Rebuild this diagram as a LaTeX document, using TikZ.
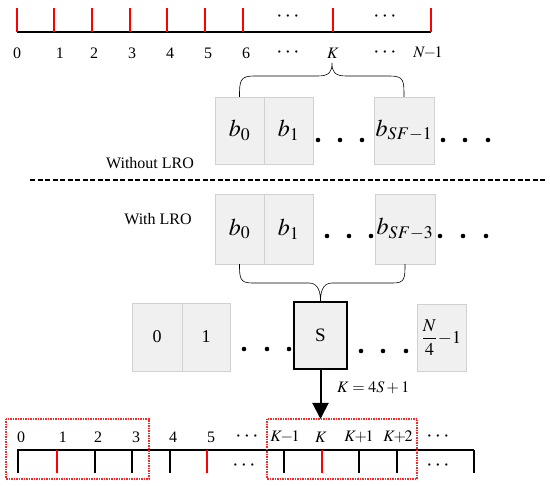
\documentclass[tikz,border=0pt]{standalone}
\usepackage{mathptmx}
\usepackage{fontspec}
\setmainfont{Liberation Serif}
\usetikzlibrary{arrows.meta}
\begin{document}
\begin{tikzpicture}[x=1pt,y=-1pt,
    lroBox/.style={rectangle,draw=black!18,fill=black!6,minimum height=67pt,inner sep=0pt,font=\fontsize{24}{28}\selectfont},
    lroNum/.style={font=\fontsize{18}{22}\selectfont},
    lroSel/.style={rectangle,draw=black,line width=1.2pt,fill=black!6,minimum width=53pt,minimum height=67pt,inner sep=0pt,font=\fontsize{19}{22}\selectfont},
    lroLabel/.style={inner sep=0pt,font=\fontsize{16}{19}\selectfont},
    lroDots/.style={inner sep=0pt,font=\fontsize{22}{24}\selectfont},
    lroFrame/.style={draw=red!85,densely dotted,line width=1.5pt},
    lroArrow/.style={-{Triangle[width=16pt,length=16pt]},line width=2pt},
]
\useasboundingbox (0,0) rectangle (550,486);
% top sequence 0 .. N-1
\draw[line width=1.8pt] (17,32) -- (431,32);
\draw[red,line width=1.8pt] (17,8) -- (17,32) (54,8) -- (54,32) (92,8) -- (92,32) (130,8) -- (130,32)
    (167,8) -- (167,32) (205,8) -- (205,32) (243,8) -- (243,32) (333,8) -- (333,32) (431,8) -- (431,32);
\node[lroDots] (tDotsA) at (288,17) {$\cdots$};
\node[lroDots] (tDotsB) at (385,17) {$\cdots$};
\node[lroLabel] (t0) at (17,53) {0};
\node[lroLabel] (t1) at (60,53) {1};
\node[lroLabel] (t2) at (94,53) {2};
\node[lroLabel] (t3) at (132,53) {3};
\node[lroLabel] (t4) at (170,53) {4};
\node[lroLabel] (t5) at (208,53) {5};
\node[lroLabel] (t6) at (246,53) {6};
\node[lroDots] (tDotsC) at (288,53) {$\cdots$};
\node[lroLabel] (tK) at (333,53) {$K$};
\node[lroDots] (tDotsD) at (385,53) {$\cdots$};
\node[lroLabel] (tN) at (428,53) {$N\!\!-\!\!1$};
\coordinate (braceTop) at (332,63);
% without LRO
\node[lroBox,minimum width=49pt] (a0) at (239.5,130.5) {$b_0$};
\node[lroBox,minimum width=49pt] (a1) at (288.5,130.5) {$b_1$};
\node[lroBox,minimum width=60pt] (a2) at (404,130.5) {$b_{SF-1}$};
\fill (318,140) circle (2.3pt) (340,140) circle (2.3pt) (362,140) circle (2.3pt);
\fill (443,140) circle (2.3pt) (465,140) circle (2.3pt) (488,140) circle (2.3pt);
\draw[semithick] (a0.north) .. controls +(0,-16) and +(-14,0) .. (254,76) -- (318,76)
    .. controls +(12,0) and +(0,8) .. (braceTop) .. controls +(0,8) and +(-12,0) .. (346,76)
    -- (390,76) .. controls +(14,0) and +(0,-16) .. (a2.north);
\node[lroLabel] (noLro) at (150,163) {Without LRO};
\draw[line width=2pt,dash pattern=on 5pt off 2.5pt] (30,180) -- (546,180);
% with LRO
\node[lroLabel] (withLro) at (158,219) {With LRO};
\node[lroBox,minimum width=49pt,minimum height=70pt] (c0) at (239.5,229) {$b_0$};
\node[lroBox,minimum width=49pt,minimum height=70pt] (c1) at (288.5,229) {$b_1$};
\node[lroBox,minimum width=60pt,minimum height=70pt] (c2) at (405,229) {$b_{SF-3}$};
\fill (327,236) circle (2.3pt) (349,236) circle (2.3pt) (371,236) circle (2.3pt);
\fill (440,236) circle (2.3pt) (463,236) circle (2.3pt) (486,236) circle (2.3pt);
% subframes
\node[lroBox,lroNum,minimum width=50pt,minimum height=68pt] (s0) at (157,337) {0};
\node[lroBox,lroNum,minimum width=48pt,minimum height=68pt] (s1) at (206,337) {1};
\node[lroSel] (sS) at (320.5,335.5) {S};
\node[lroBox,lroNum,minimum width=49pt,minimum height=67pt] (sN) at (441.5,337.5) {$\displaystyle\frac{N}{4}\!-\!1$};
\fill (244,349) circle (2.3pt) (267,349) circle (2.3pt) (289,349) circle (2.3pt);
\fill (361,351) circle (2.3pt) (383,351) circle (2.3pt) (406,351) circle (2.3pt);
\draw[semithick] (c0.south) .. controls +(0,14) and +(-12,0) .. (252,283) -- (309,283)
    .. controls +(10,0) and +(0,-8) .. (sS.north) .. controls +(0,-8) and +(-10,0) .. (332,283)
    -- (393,283) .. controls +(12,0) and +(0,14) .. (c2.south);
% mapping
\coordinate (kTip) at (320.5,419);
\draw[lroArrow] (sS.south) -- (kTip);
\node[lroLabel,anchor=west] (kEq) at (337,388) {$K=4S+1$};
% bottom sequence
\draw[line width=1.8pt] (18,450) -- (474,450);
\draw[line width=1.8pt] (18,449) -- (18,473) (95,450) -- (95,473) (132,450) -- (132,473) (170,450) -- (170,473)
    (284,450) -- (284,473) (359,450) -- (359,473) (397,450) -- (397,473) (474,450) -- (474,473);
\draw[red,line width=1.8pt] (57,450) -- (57,473) (207,450) -- (207,473) (322,450) -- (322,473);
\node[lroLabel] (b0) at (21,437) {0};
\node[lroLabel] (b1) at (63,437) {1};
\node[lroLabel] (b2) at (98,437) {2};
\node[lroLabel] (b3) at (136,437) {3};
\node[lroLabel] (b4) at (173,437) {4};
\node[lroLabel] (b5) at (211,437) {5};
\node[lroDots] (bDotsA) at (247,437) {$\cdots$};
\node[lroLabel] (bKm) at (285,437) {$K\!\!-\!\!1$};
\node[lroLabel] (bK) at (321,437) {$K$};
\node[lroLabel] (bKp) at (359,437) {$K\!\!+\!\!1$};
\node[lroLabel] (bKpp) at (398,437) {$K\!\!+\!\!2$};
\node[lroDots] (bDotsB) at (438,437) {$\cdots$};
\node[lroDots] (bDotsC) at (244,466) {$\cdots$};
\node[lroDots] (bDotsD) at (438,466) {$\cdots$};
\draw[lroFrame] (6,419) rectangle (149,479);
\draw[lroFrame] (267,419) rectangle (417,479);
\end{tikzpicture}
\end{document}
